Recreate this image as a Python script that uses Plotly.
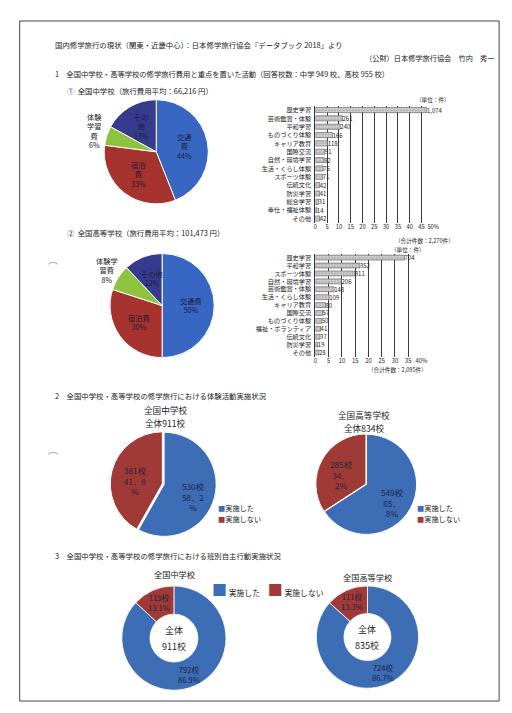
import math
import plotly.graph_objects as go

W, H = 512, 713
FONT = "Noto Sans CJK JP"
INK = "#222222"


def px(x):
    return x / W


def py(y):
    return 1 - y / H


# ---- Section 1: travel cost breakdown (%) ----
cost_items = ["交通費", "宿泊費", "体験学習費", "その他"]
cost_jhs = [44, 33, 6, 17]
cost_hs = [50, 30, 8, 12]
cost_colors = ["#3767c2", "#a6332e", "#8cc43f", "#373b8d"]
cost_lbl_jhs = ["交通<br>費", "宿泊<br>費", "体験<br>学習<br>費", "その<br>他"]
cost_lbl_hs = ["交通費", "宿泊費", "体験学<br>習費", "その他"]

# ---- Section 1: activities given priority (count of answers) ----
act_jhs = ["歴史学習", "芸術鑑賞・体験", "平和学習", "ものづくり体験", "キャリア教育",
           "国際交流", "自然・環境学習", "生活・くらし体験", "スポーツ体験", "伝統文化",
           "防災学習", "総合学習", "奉仕・福祉体験", "その他"]
act_jhs_n = [1074, 261, 240, 166, 118, 91, 82, 75, 71, 42, 41, 31, 14, 42]
act_jhs_total = 2270
act_jhs_ticks = [0, 5, 10, 15, 20, 25, 30, 35, 40, 45, 50]

act_hs = ["歴史学習", "平和学習", "スポーツ体験", "自然・環境学習", "芸術鑑賞・体験",
          "生活・くらし体験", "キャリア教育", "国際交流", "ものづくり体験",
          "福祉・ボランティア", "伝統文化", "防災学習", "その他"]
act_hs_n = [704, 352, 311, 206, 148, 109, 80, 57, 50, 41, 37, 19, 28]
act_hs_total = 2095
act_hs_ticks = [0, 5, 10, 15, 20, 25, 30, 35, 40]

# ---- Section 2: hands-on activities carried out ----
exp_labels = ["実施した", "実施しない"]
exp_jhs = [530, 381]
exp_hs = [549, 285]

# ---- Section 3: group self-directed activities ----
grp_jhs = [792, 119]
grp_hs = [724, 111]
yn_colors = ["#3d6db5", "#9f3a36"]

fig = go.Figure()
ann = []


def pie_domain(cx, cy, r):
    return dict(x=[px(cx - r), px(cx + r)], y=[py(cy + r), py(cy - r)])


def slice_points(values, cx, cy, r, factors):
    tot = float(sum(values))
    acc = 0.0
    pts = []
    for v, f in zip(values, factors):
        mid = (acc + v / 2) / tot * 2 * math.pi
        acc += v
        pts.append((cx + f * r * math.sin(mid), cy - f * r * math.cos(mid)))
    return pts


def text(x, y, s, size=8, xanchor="left", color=INK, yanchor="middle"):
    ann.append(dict(x=px(x), y=py(y), xref="paper", yref="paper", text=s,
                    showarrow=False, xanchor=xanchor, yanchor=yanchor,
                    font=dict(size=size, color=color, family=FONT)))


# Headings
text(52, 44, "国内修学旅行の現状（関東・近畿中心）：日本修学旅行協会『データブック 2018』より", 7.4)
text(503, 57, "（公財）日本修学旅行協会　竹内　秀一", 7.2, xanchor="right")
text(52, 73, "1　全国中学校・高等学校の修学旅行費用と重点を置いた活動（回答校数：中学 949 校、高校 955 校）", 7.3)
text(64, 90, "①  全国中学校（旅行費用平均：66,216 円）", 7.4)
text(64, 232, "②  全国高等学校（旅行費用平均：101,473 円）", 7.4)
text(52, 395, "2　全国中学校・高等学校の修学旅行における体験活動実施状況", 7.4)
text(52, 555, "3　全国中学校・高等学校の修学旅行における班別自主行動実施状況", 7.4)

# Cost pies
for vals, lbls, cx, cy, r in [(cost_jhs, cost_lbl_jhs, 157, 151, 53),
                              (cost_hs, cost_lbl_hs, 163, 305, 53)]:
    fig.add_trace(go.Pie(labels=cost_items, values=vals, sort=False, direction="clockwise",
                         rotation=0, textinfo="none", hoverinfo="label+percent",
                         marker=dict(colors=cost_colors, line=dict(color="white", width=1)),
                         domain=pie_domain(cx, cy, r), showlegend=False))
    factors = [0.55, 0.55, 1.25, 0.55]
    for (x, y), lb, v, i in zip(slice_points(vals, cx, cy, r, factors), lbls, vals, range(4)):
        col = "#1b1b3a" if i != 2 else INK
        text(x, y, f"{lb}<br>{v}%", 7.2, xanchor="center", color=col)

# Activity bar charts
bar_style = dict(color="#dcdcdc", line=dict(color="#555555", width=0.6),
                 pattern=dict(shape=".", fgcolor="#6e6e6e", size=3, solidity=0.45))
for idx, (cats, counts, total, ticks) in enumerate(
        [(act_jhs, act_jhs_n, act_jhs_total, act_jhs_ticks),
         (act_hs, act_hs_n, act_hs_total, act_hs_ticks)]):
    ax = "" if idx == 0 else "2"
    pct = [n / total * 100 for n in counts]
    fig.add_trace(go.Bar(x=pct, y=cats, orientation="h", xaxis="x" + ax, yaxis="y" + ax,
                         marker=bar_style, width=0.62, showlegend=False,
                         text=[f"{n:,}" for n in counts], textposition="outside",
                         cliponaxis=False, constraintext="none",
                         textfont=dict(size=6, color=INK, family=FONT)))
    ticktext = [str(t) for t in ticks]
    ticktext[-1] += "%"
    xa = dict(range=[0, ticks[-1]], tickvals=ticks, ticktext=ticktext, showgrid=True,
              gridcolor="#3c3c3c", gridwidth=0.8, zeroline=False, ticks="",
              tickfont=dict(size=5.8, color=INK, family=FONT), fixedrange=True)
    ya = dict(autorange="reversed", showline=True, linecolor="#333333", linewidth=1,
              ticks="", tickfont=dict(size=6.2, color=INK, family=FONT), fixedrange=True,
              ticklabelstandoff=2)
    if idx == 0:
        xa["domain"] = [px(319), px(439)]
        ya["domain"] = [py(222), py(105)]
        fig.update_layout(xaxis=xa, yaxis=ya)
        text(458, 99, "（単位：件）", 5.6, xanchor="right")
        text(462, 240, f"（合計件数：{total:,}件）", 5.6, xanchor="right")
    else:
        xa["domain"] = [px(319), px(427)]
        ya["domain"] = [py(356), py(253)]
        xa["anchor"] = "y2"
        ya["anchor"] = "x2"
        fig.update_layout(xaxis2=xa, yaxis2=ya)
        text(433, 249, "（単位：件）", 5.6, xanchor="right")
        text(435, 370, f"（合計件数：{total:,}件）", 5.6, xanchor="right")

# Section 2 pies
sec2 = [(exp_jhs, 165, 484, 53, [0, 0.035], "全国中学校", 166, 410, 423, 218),
        (exp_hs, 371, 484, 51, [0, 0.012], "全国高等学校", 368, 415, 428, 420)]
for k, (vals, cx, cy, r, pull, ttl, tx, ty1, ty2, lgx) in enumerate(sec2):
    rr = r * (1 + max(pull))
    fig.add_trace(go.Pie(labels=exp_labels, values=vals, sort=False, direction="clockwise",
                         rotation=0, textinfo="none", pull=pull,
                         marker=dict(colors=yn_colors, line=dict(color="white", width=1)),
                         domain=pie_domain(cx, cy, rr), showlegend=False))
    text(tx, ty1, ttl, 8.6, xanchor="center")
    text(tx, ty2, f"全体{sum(vals)}校", 8.6, xanchor="center")
    tot = sum(vals)
    for (x, y), n in zip(slice_points(vals, cx, cy, r, [0.58, 0.58]), vals):
        p = f"{n / tot * 100:.1f}".split(".")
        if k == 0:
            s = f"{n}校<br>{p[0]}．{p[1]}<br>%"
        else:
            s = f"{n}校<br>{p[0]}．<br>{p[1]}%"
        text(x, y + 4, s, 8.2, xanchor="center", color="#1f2440")
    for j, lb in enumerate(exp_labels):
        text(lgx, 508 + j * 11, f"<span style='color:{yn_colors[j]}'>■</span>{lb}", 7.2)

# Section 3 donuts
sec3 = [(grp_jhs, 175, 638, 53, "全国中学校", 176, 574),
        (grp_hs, 372, 637, 52, "全国高等学校", 372, 577)]
for vals, cx, cy, r, ttl, tx, ty in sec3:
    fig.add_trace(go.Pie(labels=exp_labels, values=vals, sort=False, direction="clockwise",
                         rotation=0, textinfo="none", hole=0.46,
                         marker=dict(colors=yn_colors, line=dict(color="white", width=0.8)),
                         domain=pie_domain(cx, cy, r), showlegend=False))
    text(tx, ty, ttl, 8.2, xanchor="center")
    # total shown in the hole
    text(cx, cy - 8, "全体", 9, xanchor="center")
    text(cx, cy + 8, f"{sum(vals)}校", 9, xanchor="center")
    tot = sum(vals)
    for (x, y), n in zip(slice_points(vals, cx, cy, r, [0.74, 0.74]), vals):
        text(x, y, f"{n}校<br>{n / tot * 100:.1f}%", 7.6, xanchor="center", color="#1f2440")

text(212, 589, f"<span style='color:{yn_colors[0]};font-size:15px'>■</span> {exp_labels[0]}　"
               f"<span style='color:{yn_colors[1]};font-size:15px'>■</span> {exp_labels[1]}", 7.8)

# punch-hole marks in the left margin
text(52, 266, "⌒", 10, xanchor="center", color="#9a9a9a")
text(52, 456, "⌒", 10, xanchor="center", color="#9a9a9a")

fig.update_layout(
    width=W, height=H, margin=dict(l=0, r=0, t=0, b=0),
    paper_bgcolor="white", plot_bgcolor="rgba(0,0,0,0)",
    font=dict(family=FONT, color=INK),
    annotations=ann, bargap=0.3,
    shapes=[dict(type="rect", xref="paper", yref="paper", x0=px(18), x1=px(506),
                 y0=py(701), y1=py(20), line=dict(color="#444444", width=1))],
)

fig.write_html("out.html")
